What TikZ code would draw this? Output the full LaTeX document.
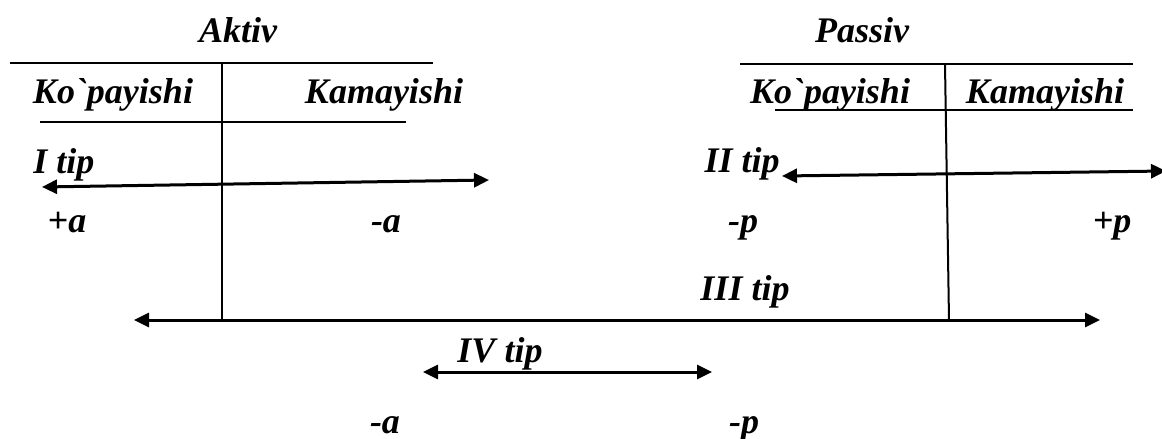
\documentclass[tikz,border=0pt]{standalone}
\usepackage{fontspec}
\setmainfont{Liberation Serif}[Ligatures=TeXOff]
\usetikzlibrary{arrows.meta}

\begin{document}
\begin{tikzpicture}[x=0.5pt, y=-0.5pt,
    yozuv/.style={font=\fontsize{18}{21}\selectfont\bfseries\itshape, inner sep=0pt, anchor=base},
    chiziq/.style={line width=1pt},
    strelka/.style={line width=1.5pt, {Triangle[length=7.5pt,width=7pt]}-{Triangle[length=7.5pt,width=7pt]}}]
    \useasboundingbox (0,0) rectangle (1162,439);

    % Aktiv
    \node[yozuv] (aktiv) at (238,42) {Aktiv};
    \coordinate (a1) at (10,63);   \coordinate (a2) at (433,63);
    \coordinate (a3) at (40,122);  \coordinate (a4) at (406,122);
    \coordinate (av1) at (222,63); \coordinate (av2) at (222,320);
    \draw[chiziq] (a1) -- (a2);
    \draw[chiziq] (a3) -- (a4);
    \draw[chiziq] (av1) -- (av2);
    \node[yozuv] (akop) at (113,103) {Ko`payishi};
    \node[yozuv] (akam) at (384,103) {Kamayishi};

    % Passiv
    \node[yozuv] (passiv) at (862,42) {Passiv};
    \coordinate (p1) at (740,64);  \coordinate (p2) at (1133,64);
    \coordinate (p3) at (775,110); \coordinate (p4) at (1133,110);
    \coordinate (pv1) at (945,64); \coordinate (pv2) at (949,320);
    \draw[chiziq] (p1) -- (p2);
    \draw[chiziq] (p3) -- (p4);
    \draw[chiziq] (pv1) -- (pv2);
    \node[yozuv] (pkop) at (830,103) {Ko`payishi};
    \node[yozuv] (pkam) at (1045,103) {Kamayishi};

    % I tip
    \node[yozuv, anchor=base west] (tip1) at (33,173) {I tip};
    \coordinate (s1a) at (42,187); \coordinate (s1b) at (489,180);
    \draw[strelka] (s1a) -- (s1b);
    \node[yozuv] (pa) at (67,232) {+a};
    \node[yozuv] (ma) at (386,232) {-a};

    % II tip
    \node[yozuv, anchor=base east] (tip2) at (780,172) {II tip};
    \coordinate (s2a) at (782,176); \coordinate (s2b) at (1166,171);
    \draw[strelka] (s2a) -- (s2b);
    \node[yozuv] (mp) at (743,232) {-p};
    \node[yozuv] (pp) at (1112,232) {+p};

    % III tip
    \node[yozuv] (tip3) at (745,300) {III tip};
    \coordinate (s3a) at (134,320); \coordinate (s3b) at (1100,320);
    \draw[strelka] (s3a) -- (s3b);

    % IV tip
    \node[yozuv] (tip4) at (500,362) {IV tip};
    \coordinate (s4a) at (423,372); \coordinate (s4b) at (712,372);
    \draw[strelka] (s4a) -- (s4b);
    \node[yozuv] (ma2) at (385,433) {-a};
    \node[yozuv] (mp2) at (744,433) {-p};
\end{tikzpicture}
\end{document}
